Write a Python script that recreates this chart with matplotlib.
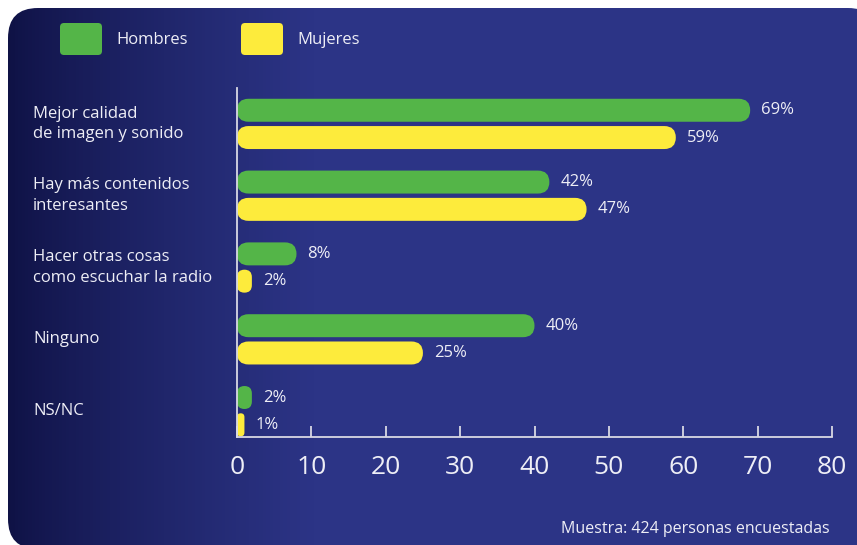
import numpy as np
import matplotlib.pyplot as plt
from matplotlib.patches import FancyBboxPatch
from matplotlib.transforms import blended_transform_factory

plt.rcParams['font.family'] = ['Open Sans', 'DejaVu Sans']

# data
categorias = ["Mejor calidad\nde imagen y sonido",
              "Hay más contenidos\ninteresantes",
              "Hacer otras cosas\ncomo escuchar la radio",
              "Ninguno",
              "NS/NC"]
hombres = [69, 42, 8, 40, 2]
mujeres = [59, 47, 2, 25, 1]
xticks = [0, 10, 20, 30, 40, 50, 60, 70, 80]
nota = "Muestra: 424 personas encuestadas"

W, H = 857, 545
verde = "#54b548"
amarillo = "#fdeb3c"
texto = "#eeeef6"

fig = plt.figure(figsize=(W / 100, H / 100), dpi=100)
fig.patch.set_facecolor("white")

# background panel with horizontal gradient
bg = fig.add_axes([0, 0, 1, 1])
bg.set_xlim(0, W)
bg.set_ylim(H, 0)
bg.axis("off")
grad = np.linspace(0, 1, 256)
grad = np.clip(grad / 0.35, 0, 1) ** 0.8
c0 = np.array([0x0f, 0x12, 0x45]) / 255
c1 = np.array([0x2c, 0x34, 0x86]) / 255
img = c0[None, :] + (c1 - c0)[None, :] * grad[:, None]
img = img[None, :, :]
panel = FancyBboxPatch((8, 8), 870, 541, boxstyle="round,pad=0,rounding_size=30",
                       transform=bg.transData, facecolor="none", edgecolor="none")
bg.add_patch(panel)
im = bg.imshow(img, extent=[8, 878, 549, 8], aspect="auto")
im.set_clip_path(panel)

# legend boxes
for x0, col, lab in [(60, verde, "Hombres"), (241, amarillo, "Mujeres")]:
    bg.add_patch(FancyBboxPatch((x0, 23), 42, 32, boxstyle="round,pad=0,rounding_size=4",
                                facecolor=col, edgecolor="none"))
    bg.text(x0 + 56, 40, lab, color=texto, fontsize=12, va="center", ha="left")

bg.text(830, 529, nota, color=texto, fontsize=11.5, va="center", ha="right")

# main axes
ax_l, ax_b, ax_w, ax_h = 237 / W, (H - 437) / H, 595 / W, 349 / H
ax = fig.add_axes([ax_l, ax_b, ax_w, ax_h])
ax.patch.set_alpha(0)
ylo, yhi = 4.36, -0.50
ax.set_xlim(0, 80)
ax.set_ylim(ylo, yhi)

px_x = ax_w * W / 80
px_y = ax_h * H / (ylo - yhi)
aspect = px_x / px_y

off = 0.19
bh = 0.32
y = np.arange(len(categorias))
for vals, col, dy in [(hombres, verde, -off), (mujeres, amarillo, off)]:
    for yi, v in zip(y, vals):
        w_px = v * px_x
        r_px = min(bh * px_y / 2, w_px / 2)
        ax.add_patch(FancyBboxPatch((0, yi + dy - bh / 2), v, bh,
                                    boxstyle=f"round,pad=0,rounding_size={r_px / px_x}",
                                    mutation_aspect=aspect,
                                    facecolor=col, edgecolor="none"))
        ax.annotate(f"{v}%", (v, yi + dy), xytext=(8, 0), textcoords="offset points",
                    color=texto, fontsize=12, va="center", ha="left")

trans = blended_transform_factory(fig.transFigure, ax.transData)
for yi, cat in zip(y, categorias):
    ax.text(33 / W, yi, cat, transform=trans, color=texto, fontsize=12,
            va="center", ha="left", linespacing=1.4)

for s in ["top", "right"]:
    ax.spines[s].set_visible(False)
for s in ["left", "bottom"]:
    ax.spines[s].set_color("#d8d8e4")
    ax.spines[s].set_linewidth(1.3)
ax.set_yticks([])
ax.set_xticks(xticks)
ax.tick_params(axis="x", direction="in", length=8, width=1.3, color="#d8d8e4",
               labelcolor=texto, labelsize=19, pad=13)

fig.savefig("out.png", dpi=100)
